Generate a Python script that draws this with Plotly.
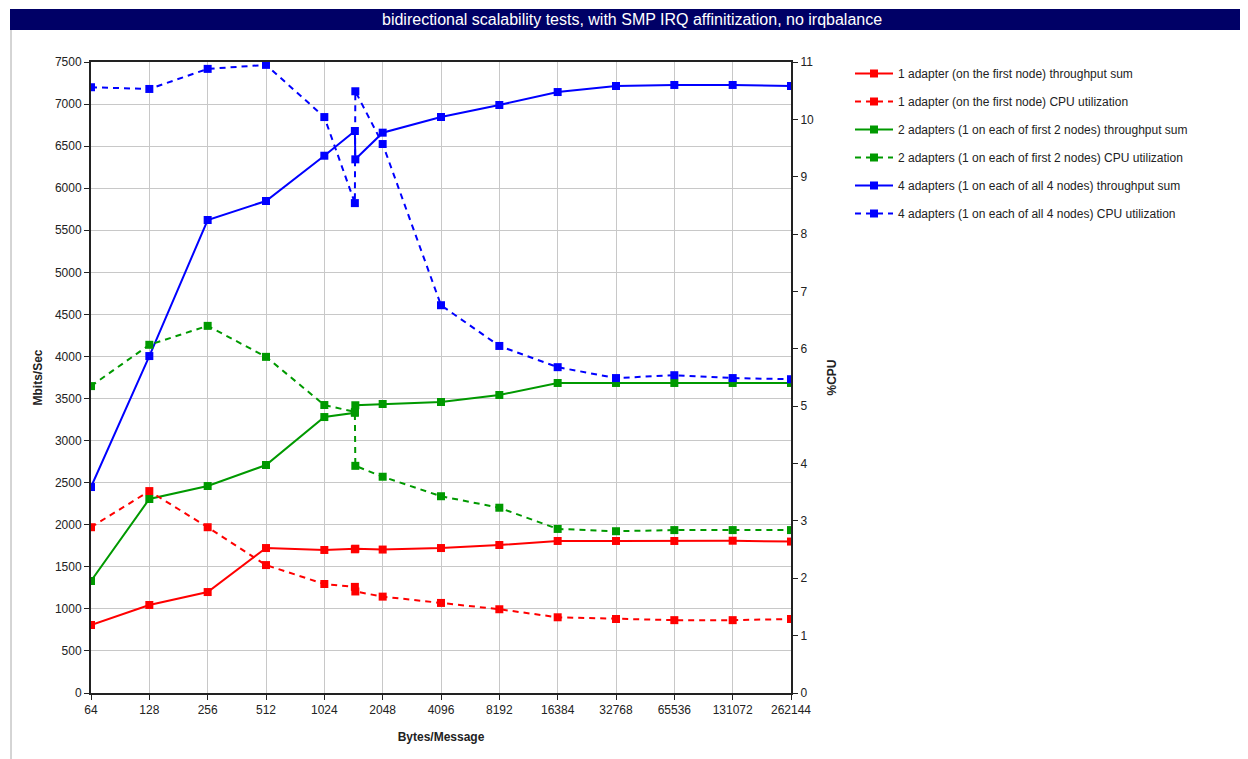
import plotly.graph_objects as go
import math

# x categories (bytes/message); two measurements near 1472 bytes
x_vals = [64, 128, 256, 512, 1024, 1472, 1480, 2048, 4096, 8192, 16384, 32768, 65536, 131072, 262144]
tick_vals = [64, 128, 256, 512, 1024, 2048, 4096, 8192, 16384, 32768, 65536, 131072, 262144]
tick_text = [str(v) for v in tick_vals]

# throughput sums (Mbits/Sec)
tp_1 = [808, 1046, 1200, 1723, 1700, 1708, 1715, 1705, 1723, 1759, 1807, 1807, 1807, 1810, 1800]
tp_2 = [1331, 2306, 2460, 2710, 3280, 3330, 3420, 3435, 3459, 3542, 3685, 3685, 3685, 3685, 3685]
tp_4 = [2448, 4005, 5622, 5848, 6386, 6680, 6343, 6660, 6846, 6989, 7143, 7215, 7227, 7227, 7215]

# CPU utilization (%CPU)
cpu_1 = [2.89, 3.52, 2.89, 2.23, 1.90, 1.85, 1.77, 1.68, 1.57, 1.46, 1.32, 1.29, 1.27, 1.27, 1.29]
cpu_2 = [5.35, 6.07, 6.40, 5.86, 5.02, 4.90, 3.96, 3.77, 3.43, 3.23, 2.86, 2.82, 2.84, 2.84, 2.84]
cpu_4 = [10.56, 10.53, 10.88, 10.95, 10.04, 8.54, 10.49, 9.57, 6.76, 6.05, 5.68, 5.49, 5.54, 5.49, 5.47]

names = [
    "1 adapter (on the first node) throughput sum",
    "1 adapter (on the first node) CPU utilization",
    "2 adapters (1 on each of first 2 nodes) throughput sum",
    "2 adapters (1 on each of first 2 nodes) CPU utilization",
    "4 adapters (1 on each of all 4 nodes) throughput sum",
    "4 adapters (1 on each of all 4 nodes) CPU utilization",
]
RED, GREEN, BLUE = "#FF0000", "#009900", "#0000FF"

series = [
    (tp_1, RED, "solid", "y"),
    (cpu_1, RED, "dash", "y2"),
    (tp_2, GREEN, "solid", "y"),
    (cpu_2, GREEN, "dash", "y2"),
    (tp_4, BLUE, "solid", "y"),
    (cpu_4, BLUE, "dash", "y2"),
]

fig = go.Figure()
for i, (vals, col, dash, ax) in enumerate(series):
    fig.add_trace(go.Scatter(
        x=x_vals, y=vals, name=names[i], yaxis=ax,
        mode="lines+markers",
        line=dict(color=col, width=2, dash="6px,5px" if dash == "dash" else "solid"),
        marker=dict(symbol="square", size=8, color=col),
        legendgroup=f"g{i}",
    ))

FONT = "Liberation Sans, Arial, sans-serif"
OFF = 8  # page body margin
L, R, T, B = 91 - OFF, 791 - OFF, 62 - OFF, 693 - OFF
W, H = 1240, 751
pw, ph = R - L, B - T

def px(xs):
    return (xs - OFF - L) / pw

def py(ys):
    return (B - (ys - OFF)) / ph

fig.update_layout(
    width=W, height=H,
    margin=dict(l=L, r=W - R, t=T, b=H - B, autoexpand=False),
    paper_bgcolor="white", plot_bgcolor="white",
    font=dict(family=FONT, size=12, color="#222222"),
    showlegend=True,
    legend=dict(
        x=px(850), y=py(59), xanchor="left", yanchor="top",
        font=dict(family=FONT, size=12, color="#222222"),
        bgcolor="rgba(0,0,0,0)", traceorder="grouped", tracegroupgap=9,
        itemwidth=38,
    ),
    xaxis=dict(
        type="log", range=[math.log10(64), math.log10(262144)],
        tickvals=tick_vals, ticktext=tick_text,
        showgrid=True, gridcolor="#C8C8C8", gridwidth=1,
        showline=True, linecolor="#222222", linewidth=2, mirror=True,
        ticks="outside", ticklen=5, tickcolor="#222222",
        tickfont=dict(family=FONT, size=12, color="#222222"),
        title=dict(text="<b>Bytes/Message</b>", font=dict(family=FONT, size=12, color="#222222"), standoff=16),
        zeroline=False,
    ),
    yaxis=dict(
        range=[0, 7500], tickvals=list(range(0, 7501, 500)),
        showgrid=True, gridcolor="#C8C8C8", gridwidth=1,
        showline=True, linecolor="#222222", linewidth=2,
        ticks="outside", ticklen=5, tickcolor="#222222",
        tickfont=dict(family=FONT, size=12, color="#222222"),
        title=dict(text="<b>Mbits/Sec</b>", font=dict(family=FONT, size=12, color="#222222"), standoff=10),
        zeroline=False,
    ),
    yaxis2=dict(
        range=[0, 11], tickvals=list(range(0, 12)), overlaying="y", side="right",
        showgrid=False,
        showline=True, linecolor="#222222", linewidth=2,
        ticks="outside", ticklen=5, tickcolor="#222222",
        tickfont=dict(family=FONT, size=12, color="#222222"),
        title=dict(text="<b>%CPU</b>", font=dict(family=FONT, size=12, color="#222222"), standoff=15),
        zeroline=False,
    ),
    shapes=[
        dict(type="rect", xref="paper", yref="paper",
             x0=px(10), x1=px(1260), y0=py(30), y1=py(9),
             fillcolor="#000066", line=dict(width=0), layer="above"),
        dict(type="line", xref="paper", yref="paper",
             x0=px(11), x1=px(11), y0=py(30), y1=py(759),
             line=dict(color="#AAAAAA", width=1)),
    ],
    annotations=[
        dict(text="bidirectional scalability tests, with SMP IRQ affinitization, no irqbalance",
             xref="paper", yref="paper", x=px(632), y=py(19.5),
             xanchor="center", yanchor="middle", showarrow=False,
             font=dict(family="Liberation Sans Narrow, Arial Narrow, " + FONT, size=16, color="white")),
    ],
)

fig.write_html("out.html")
